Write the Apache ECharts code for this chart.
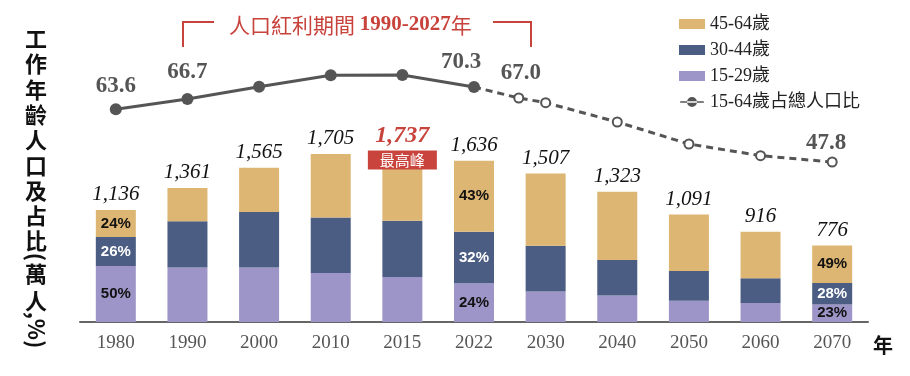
<!DOCTYPE html>
<html>
<head>
<meta charset="utf-8">
<script src="https://cdn.jsdelivr.net/npm/echarts@6/dist/echarts.min.js"></script>
<style>
  html, body { margin: 0; padding: 0; background: #fff; }
  #chart { width: 910px; height: 376px; }
</style>
</head>
<body>
<div id="chart"></div>
<script>
// 年份 (x軸)
const categories = ['1980', '1990', '2000', '2010', '2015', '2022', '2030', '2040', '2050', '2060', '2070']
// 各年齡層人數 (萬人)
const age15_29 = [568, 553, 553, 497, 457, 393, 310, 270, 217, 193, 178]
const age30_44 = [295, 470, 564, 563, 570, 523, 463, 360, 300, 250, 217]
const age45_64 = [273, 338, 448, 645, 710, 720, 734, 693, 574, 473, 381]
const totals = [1136, 1361, 1565, 1705, 1737, 1636, 1507, 1323, 1091, 916, 776]
// 柱內百分比標籤
const pct15_29 = ['50%', '', '', '', '', '24%', '', '', '', '', '23%']
const pct30_44 = ['26%', '', '', '', '', '32%', '', '', '', '', '28%']
const pct45_64 = ['24%', '', '', '', '', '43%', '', '', '', '', '49%']
// 15-64歲占總人口比 (%)
const ratioYears = [1980, 1990, 2000, 2010, 2015, 2022, 2027, 2030, 2040, 2050, 2060, 2070]
const ratioValues = [63.6, 66.7, 70.4, 73.8, 73.9, 70.3, 67.0, 65.6, 59.8, 53.2, 49.7, 47.8]
const ratioLabelYears = [1980, 1990, 2022, 2027, 2070]
const lastActualYear = 2022
const peakLabel = '最高峰'

const RED = '#C8433B'
const GRAY = '#555555'

// 年份 -> 類目軸位置 (含 2027 這種不在類目上的年份)
function yearPos(y) {
    const ys = categories.map(Number)
    for (let i = 0; i < ys.length - 1; i++) {
        if (y >= ys[i] && y <= ys[i + 1]) {
            return i + 0.5 + (y - ys[i]) / (ys[i + 1] - ys[i])
        }
    }
    return ys.indexOf(y) + 0.5
}
function fmt(n) {
    return String(n).replace(/\B(?=(\d{3})+(?!\d))/g, ',')
}

const peakIndex = totals.indexOf(Math.max(...totals))
const splitIdx = ratioYears.indexOf(lastActualYear)

// 折線標籤偏移
const ratioLabelOffset = {
    1980: [0, 2], 1990: [0, -1], 2022: [-13, 1], 2027: [2, -2], 2070: [-6, 4]
}

function ratioItem(i) {
    const y = ratioYears[i]
    const item = { value: [yearPos(y), ratioValues[i]] }
    if (ratioLabelYears.indexOf(y) >= 0) {
        item.label = { show: true, offset: ratioLabelOffset[y] || [0, 0] }
    }
    return item
}
const solidData = []
const dashedData = []
ratioYears.forEach((y, i) => {
    if (i <= splitIdx) solidData.push(ratioItem(i))
    if (i >= splitIdx) dashedData.push(i === splitIdx ? { value: [yearPos(y), ratioValues[i]], symbol: 'none' } : ratioItem(i))
})

const pctLabel = (arr, color) => ({
    show: true,
    position: 'inside',
    color: color,
    fontFamily: 'Liberation Sans',
    fontWeight: 'bold',
    fontSize: 15,
    formatter: p => arr[p.dataIndex]
})

// 總數標籤 (最高峰另加紅框)
const totalData = totals.map((v, i) => {
    if (i !== peakIndex) return 0
    return {
        value: 0,
        label: {
            formatter: '{a|' + fmt(v) + '}\n{b|' + peakLabel + '}',
            offset: [0, 22],
            rich: {
                a: { fontFamily: 'Liberation Serif', fontStyle: 'italic', fontWeight: 'bold', fontSize: 24, color: RED, lineHeight: 32, align: 'center' },
                b: { fontFamily: 'Noto Sans CJK TC', fontStyle: 'normal', fontSize: 15, color: '#fff', backgroundColor: '#C9443D', padding: [2, 12], lineHeight: 16, align: 'center' }
            }
        }
    }
})

const legendFont = { fontFamily: 'Liberation Serif, Noto Sans CJK TC', fontSize: 18, lineHeight: 18, color: '#222' }

let myChart = echarts.init(document.getElementById('chart'))
let option = {
    backgroundColor: '#FFFFFF',
    animation: false,
    legend: {
        orient: 'vertical',
        left: 674,
        top: 10,
        itemWidth: 26,
        itemHeight: 10,
        itemGap: 8,
        textStyle: legendFont,
        data: [
            { name: '45-64歲', icon: 'rect' },
            { name: '30-44歲', icon: 'rect' },
            { name: '15-29歲', icon: 'rect' },
            {
                name: '15-64歲占總人口比',
                icon: 'path://M0,4.2H26V5.8H0Z M7.5,5A5.5,5.5 0 1,0 18.5,5A5.5,5.5 0 1,0 7.5,5Z',
                itemStyle: { color: GRAY, borderColor: GRAY, borderWidth: 0 }
            }
        ]
    },
    grid: {
        left: 80,
        right: 42,
        top: 60,
        bottom: 54
    },
    xAxis: [{
        type: 'category',
        data: categories,
        boundaryGap: true,
        axisLine: {
            lineStyle: { width: 2, color: '#666' }
        },
        axisTick: {
            inside: true,
            length: 7,
            lineStyle: { width: 2, color: '#666' }
        },
        axisLabel: {
            margin: 12,
            color: GRAY,
            fontFamily: 'Liberation Serif',
            fontSize: 19
        },
        name: '年',
        nameLocation: 'end',
        nameGap: 5,
        nameTextStyle: {
            fontFamily: 'Noto Sans CJK TC',
            fontWeight: 'bold',
            fontSize: 20,
            color: '#111',
            verticalAlign: 'top',
            padding: [13, 0, 0, 0]
        }
    }, {
        type: 'value',
        min: 0,
        max: categories.length,
        show: false
    }],
    yAxis: [{
        type: 'value',
        min: 0,
        max: 2660,
        show: false
    }, {
        type: 'value',
        min: -0.2,
        max: 78.4,
        show: false
    }],
    series: [
        {
            name: '15-29歲',
            type: 'bar',
            stack: 'pop',
            barWidth: 40,
            data: age15_29,
            itemStyle: { color: '#9D95C7' },
            label: pctLabel(pct15_29, '#111')
        },
        {
            name: '30-44歲',
            type: 'bar',
            stack: 'pop',
            barWidth: 40,
            data: age30_44,
            itemStyle: { color: '#4B5D82' },
            label: pctLabel(pct30_44, '#fff')
        },
        {
            name: '45-64歲',
            type: 'bar',
            stack: 'pop',
            barWidth: 40,
            data: age45_64,
            itemStyle: { color: '#DDB673' },
            label: pctLabel(pct45_64, '#111')
        },
        {
            name: 'total',
            type: 'bar',
            stack: 'pop',
            barWidth: 40,
            data: totalData,
            itemStyle: { color: 'transparent' },
            label: {
                show: true,
                position: 'top',
                distance: 5,
                color: '#111',
                fontFamily: 'Liberation Serif',
                fontStyle: 'italic',
                fontSize: 21,
                formatter: p => fmt(totals[p.dataIndex])
            },
            silent: true
        },
        {
            name: '15-64歲占總人口比',
            type: 'line',
            xAxisIndex: 1,
            yAxisIndex: 1,
            data: solidData,
            symbol: 'circle',
            symbolSize: 12,
            clip: false,
            lineStyle: { color: GRAY, width: 3 },
            itemStyle: { color: GRAY },
            label: {
                show: false,
                position: 'top',
                distance: 8,
                color: GRAY,
                fontFamily: 'Liberation Serif',
                fontWeight: 'bold',
                fontSize: 23,
                formatter: p => p.value[1].toFixed(1)
            },
            z: 5
        },
        {
            name: 'proj',
            type: 'line',
            xAxisIndex: 1,
            yAxisIndex: 1,
            data: dashedData,
            symbol: 'emptyCircle',
            symbolSize: 9,
            clip: false,
            lineStyle: { color: GRAY, width: 3, type: [7, 5] },
            itemStyle: { color: GRAY, borderWidth: 2 },
            label: {
                show: false,
                position: 'top',
                distance: 6,
                color: GRAY,
                fontFamily: 'Liberation Serif',
                fontWeight: 'bold',
                fontSize: 23,
                formatter: p => p.value[1].toFixed(1)
            },
            z: 4
        }
    ],
    graphic: [
        {
            type: 'text',
            x: 36,
            y: 26,
            style: {
                text: '工\n作\n年\n齡\n人\n口\n及\n占\n比',
                font: 'bold 22px "Noto Sans CJK TC"',
                lineHeight: 25.3,
                fill: '#111',
                textAlign: 'center',
                textVerticalAlign: 'top'
            }
        },
        {
            type: 'text',
            x: 36,
            y: 257,
            rotation: -Math.PI / 2,
            style: {
                text: '(',
                font: 'bold 22px "Noto Sans CJK TC"',
                fill: '#111',
                textAlign: 'center',
                textVerticalAlign: 'middle'
            }
        },
        {
            type: 'text',
            x: 36,
            y: 260,
            style: {
                text: '萬\n人',
                font: 'bold 22px "Noto Sans CJK TC"',
                lineHeight: 27,
                fill: '#111',
                textAlign: 'center',
                textVerticalAlign: 'top'
            }
        },
        {
            type: 'text',
            x: 36,
            y: 330,
            rotation: -Math.PI / 2,
            style: {
                text: ',%)',
                font: 'bold 22px "Noto Sans CJK TC"',
                fill: '#111',
                textAlign: 'center',
                textVerticalAlign: 'middle'
            }
        },
        {
            type: 'polyline',
            shape: { points: [[183, 47], [183, 22], [214, 22]] },
            style: { stroke: RED, lineWidth: 2, fill: null }
        },
        {
            type: 'polyline',
            shape: { points: [[493, 22], [531, 22], [531, 47]] },
            style: { stroke: RED, lineWidth: 2, fill: null }
        },
        {
            type: 'text',
            x: 229,
            y: 25,
            style: {
                text: '{a|人口紅利期間 }{b|1990-2027}{a|年}',
                textVerticalAlign: 'middle',
                rich: {
                    a: { fontFamily: 'Noto Sans CJK TC', fontSize: 21, fill: RED, color: RED },
                    b: { fontFamily: 'Liberation Serif', fontWeight: 'bold', fontSize: 21, fill: RED, color: RED }
                }
            }
        }
    ]
}
myChart.setOption(option)
window.addEventListener('resize', function() {
    myChart.resize()
})
</script>
</body>
</html>
